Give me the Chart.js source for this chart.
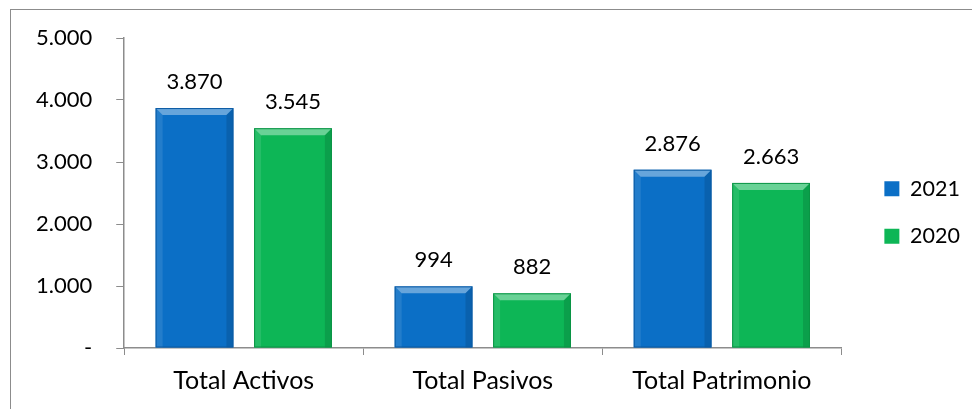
<!DOCTYPE html>
<html lang="es">
<head>
    <meta charset="UTF-8" />
    <title>Balance 2021 vs 2020</title>
    <script src="https://cdn.jsdelivr.net/npm/chart.js"></script>
    <style>
        body {
            margin: 0;
            background: #ffffff;
            overflow: hidden;
        }
        .frame {
            position: absolute;
            left: 10px;
            top: 9px;
            width: 1000px;
            height: 500px;
            border: 1.5px solid #8c8c8c;
        }
        .chart-box {
            position: absolute;
            left: 0;
            top: 0;
            width: 972px;
            height: 409px;
        }
    </style>
</head>
<body>
    <div class="frame"></div>
    <div class="chart-box">
        <canvas id="balanceChart"></canvas>
    </div>

    <script>
        const categories = ["Total Activos", "Total Pasivos", "Total Patrimonio"];
        const values2021 = [3870, 994, 2876];
        const values2020 = [3545, 882, 2663];
        const yTicks = [0, 1000, 2000, 3000, 4000, 5000];

        const fontFamily = "Lato, 'Open Sans', sans-serif";

        // miles con punto, cero como guion
        function fmt(v) {
            if (v === 0) return "-";
            return v.toString().replace(/\B(?=(\d{3})+(?!\d))/g, ".");
        }

        // bisel sobre cada barra: cara superior clara, lados sombreados
        const bevelBars = {
            id: "bevelBars",
            afterDatasetsDraw(chart) {
                const ctx = chart.ctx;
                chart.data.datasets.forEach((ds, i) => {
                    const meta = chart.getDatasetMeta(i);
                    if (meta.hidden) return;
                    meta.data.forEach((bar) => {
                        const w = bar.width;
                        const l = bar.x - w / 2, r = bar.x + w / 2;
                        const t = bar.y, b = bar.base;
                        const k = Math.min(7, (b - t) / 2);
                        ctx.save();
                        // superior
                        ctx.fillStyle = "rgba(255,255,255,0.38)";
                        ctx.beginPath();
                        ctx.moveTo(l, t); ctx.lineTo(r, t);
                        ctx.lineTo(r - k, t + k); ctx.lineTo(l + k, t + k);
                        ctx.closePath(); ctx.fill();
                        // izquierda
                        ctx.fillStyle = "rgba(255,255,255,0.10)";
                        ctx.beginPath();
                        ctx.moveTo(l, t); ctx.lineTo(l + k, t + k);
                        ctx.lineTo(l + k, b); ctx.lineTo(l, b);
                        ctx.closePath(); ctx.fill();
                        // derecha
                        ctx.fillStyle = "rgba(0,0,0,0.12)";
                        ctx.beginPath();
                        ctx.moveTo(r, t); ctx.lineTo(r - k, t + k);
                        ctx.lineTo(r - k, b); ctx.lineTo(r, b);
                        ctx.closePath(); ctx.fill();
                        // borde
                        ctx.strokeStyle = ds.borderColor;
                        ctx.lineWidth = 1;
                        ctx.strokeRect(l + 0.5, t + 0.5, w - 1, b - t - 1);
                        ctx.restore();
                    });
                });
            }
        };

        // etiquetas de valor encima de las barras
        const valueLabels = {
            id: "valueLabels",
            afterDatasetsDraw(chart) {
                const ctx = chart.ctx;
                ctx.save();
                ctx.font = "22px " + fontFamily;
                ctx.fillStyle = "#000";
                ctx.textAlign = "center";
                ctx.textBaseline = "middle";
                chart.data.datasets.forEach((ds, i) => {
                    chart.getDatasetMeta(i).data.forEach((bar, j) => {
                        ctx.fillText(fmt(ds.data[j]), bar.x, bar.y - 26);
                    });
                });
                ctx.restore();
            }
        };

        const ctx = document.getElementById("balanceChart").getContext("2d");

        const balanceChart = new Chart(ctx, {
            type: "bar",
            data: {
                labels: categories,
                datasets: [
                    {
                        label: "2021",
                        data: values2021,
                        backgroundColor: "#0b6fc6",
                        borderColor: "#0a5aa3",
                        borderWidth: 0
                    },
                    {
                        label: "2020",
                        data: values2020,
                        backgroundColor: "#0db656",
                        borderColor: "#0a9445",
                        borderWidth: 0
                    }
                ]
            },
            options: {
                responsive: true,
                maintainAspectRatio: false,
                animation: false,
                categoryPercentage: 0.824,
                barPercentage: 0.79,
                layout: { padding: { top: 38, right: 2, bottom: 2, left: 12 } },
                plugins: {
                    legend: {
                        position: "right",
                        align: "start",
                        title: {
                            display: true,
                            text: " ",
                            font: { size: 10 },
                            padding: { top: 102, bottom: 0 }
                        },
                        labels: {
                            boxWidth: 15,
                            boxHeight: 15,
                            padding: 26,
                            color: "#000",
                            font: { family: fontFamily, size: 21.5 }
                        }
                    },
                    tooltip: { enabled: false }
                },
                scales: {
                    x: {
                        grid: {
                            offset: true,
                            drawOnChartArea: false,
                            drawTicks: true,
                            tickLength: 7,
                            tickColor: "#8c8c8c"
                        },
                        border: { display: true, color: "#8c8c8c", width: 1.5 },
                        ticks: {
                            color: "#000",
                            padding: 11,
                            font: { family: fontFamily, size: 25 }
                        }
                    },
                    y: {
                        min: 0,
                        max: 5000,
                        afterBuildTicks(axis) {
                            axis.ticks = yTicks.map((v) => ({ value: v }));
                        },
                        grid: {
                            drawOnChartArea: false,
                            drawTicks: true,
                            tickLength: 8,
                            tickColor: "#8c8c8c"
                        },
                        border: { display: true, color: "#8c8c8c", width: 1.5 },
                        ticks: {
                            color: "#000",
                            padding: 24,
                            font: { family: fontFamily, size: 22 },
                            callback: (v) => fmt(v)
                        }
                    },
                    // hueco vacío entre el área de barras y la leyenda
                    gap: {
                        type: "linear",
                        position: "right",
                        display: true,
                        grid: { display: false },
                        border: { display: false },
                        ticks: { display: false },
                        afterFit(scale) { scale.width = 17; }
                    }
                }
            },
            plugins: [bevelBars, valueLabels]
        });
    </script>
</body>
</html>
